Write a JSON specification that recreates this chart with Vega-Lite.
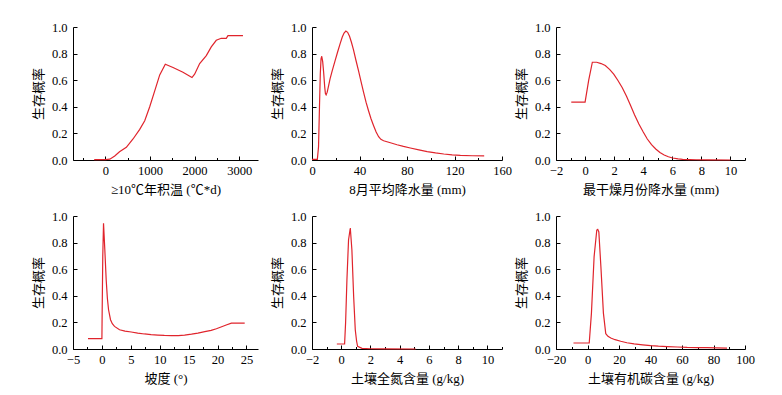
{
  "$schema": "https://vega.github.io/schema/vega-lite/v6.json",
  "background": "white",
  "padding": {"left": 32, "top": 21, "right": 5, "bottom": 5},
  "bounds": "flush",
  "columns": 3,
  "spacing": {"row": 56, "column": 54},
  "config": {
    "view": {"stroke": null},
    "axis": {
      "grid": false,
      "domainColor": "#000000",
      "domainWidth": 1,
      "tickColor": "#000000",
      "tickWidth": 1,
      "labelColor": "#000000",
      "labelFont": "Times New Roman, Liberation Serif, serif",
      "labelFontSize": 12.5,
      "labelFlush": false,
      "labelOverlap": false,
      "titleColor": "#000000",
      "titleFont": "Times New Roman, Liberation Serif, Noto Sans CJK SC, serif",
      "titleFontSize": 13,
      "titleFontWeight": "normal"
    },
    "axisX": {"labelPadding": 8, "titlePadding": 5},
    "axisY": {"labelPadding": 10, "titlePadding": 6,
      "values": [0, 0.1, 0.2, 0.3, 0.4, 0.5, 0.6, 0.7, 0.8, 0.9, 1.0],
      "format": ".1f",
      "labelExpr": "round(datum.value*10) % 2 === 0 ? datum.label : ''",
      "tickSize": {"condition": {"test": "round(datum.value*10) % 2 === 0", "value": -4}, "value": -2.5}
    }
  },
  "datasets": {
    "d1": [
      {"x": -250, "y": 0.003}, {"x": 0, "y": 0.003}, {"x": 100, "y": 0.006}, {"x": 210, "y": 0.03},
      {"x": 317, "y": 0.062}, {"x": 470, "y": 0.095}, {"x": 620, "y": 0.158}, {"x": 770, "y": 0.23},
      {"x": 882, "y": 0.295}, {"x": 994, "y": 0.4}, {"x": 1106, "y": 0.52}, {"x": 1218, "y": 0.64},
      {"x": 1343, "y": 0.72}, {"x": 1516, "y": 0.695}, {"x": 1739, "y": 0.66}, {"x": 1941, "y": 0.62},
      {"x": 2000, "y": 0.645}, {"x": 2113, "y": 0.725}, {"x": 2262, "y": 0.785}, {"x": 2373, "y": 0.85},
      {"x": 2485, "y": 0.9}, {"x": 2597, "y": 0.915}, {"x": 2709, "y": 0.915}, {"x": 2747, "y": 0.935},
      {"x": 3083, "y": 0.935}
    ],
    "d2": [
      {"x": 0, "y": 0.005}, {"x": 4.5, "y": 0.005}, {"x": 5.5, "y": 0.1}, {"x": 6.3, "y": 0.4},
      {"x": 7.0, "y": 0.65}, {"x": 7.6, "y": 0.76}, {"x": 8.2, "y": 0.78}, {"x": 9.0, "y": 0.74},
      {"x": 9.8, "y": 0.66}, {"x": 10.7, "y": 0.55}, {"x": 11.3, "y": 0.5}, {"x": 11.9, "y": 0.49},
      {"x": 12.8, "y": 0.51}, {"x": 14, "y": 0.56}, {"x": 15.2, "y": 0.61}, {"x": 17, "y": 0.67},
      {"x": 19.4, "y": 0.745}, {"x": 21.5, "y": 0.81}, {"x": 23.7, "y": 0.875}, {"x": 25.5, "y": 0.925},
      {"x": 27, "y": 0.955}, {"x": 28.5, "y": 0.97}, {"x": 30, "y": 0.96}, {"x": 31.6, "y": 0.93},
      {"x": 33.2, "y": 0.885}, {"x": 34.9, "y": 0.83}, {"x": 37, "y": 0.75}, {"x": 39.2, "y": 0.67},
      {"x": 41.3, "y": 0.59}, {"x": 43.4, "y": 0.51}, {"x": 45.5, "y": 0.435}, {"x": 47.6, "y": 0.37},
      {"x": 49.7, "y": 0.31}, {"x": 51.8, "y": 0.26}, {"x": 54, "y": 0.21}, {"x": 56.1, "y": 0.175},
      {"x": 58, "y": 0.155}, {"x": 60.3, "y": 0.145}, {"x": 66, "y": 0.13}, {"x": 71.6, "y": 0.115},
      {"x": 77, "y": 0.102}, {"x": 82.8, "y": 0.09}, {"x": 90, "y": 0.076}, {"x": 97, "y": 0.063},
      {"x": 104, "y": 0.053}, {"x": 111, "y": 0.045}, {"x": 118, "y": 0.039}, {"x": 125, "y": 0.035},
      {"x": 135, "y": 0.032}, {"x": 145, "y": 0.031}
    ],
    "d3": [
      {"x": -0.95, "y": 0.435}, {"x": 0, "y": 0.435}, {"x": 0.25, "y": 0.6}, {"x": 0.5, "y": 0.735},
      {"x": 0.8, "y": 0.735}, {"x": 1.1, "y": 0.725}, {"x": 1.39, "y": 0.71}, {"x": 1.7, "y": 0.68},
      {"x": 1.97, "y": 0.645}, {"x": 2.25, "y": 0.6}, {"x": 2.55, "y": 0.545}, {"x": 2.85, "y": 0.48},
      {"x": 3.13, "y": 0.41}, {"x": 3.4, "y": 0.34}, {"x": 3.7, "y": 0.27}, {"x": 4.0, "y": 0.21},
      {"x": 4.28, "y": 0.158}, {"x": 4.57, "y": 0.115}, {"x": 4.86, "y": 0.083}, {"x": 5.15, "y": 0.057},
      {"x": 5.44, "y": 0.038}, {"x": 5.73, "y": 0.024}, {"x": 6.02, "y": 0.015}, {"x": 6.4, "y": 0.008},
      {"x": 6.71, "y": 0.005}, {"x": 7.2, "y": 0.003}, {"x": 7.64, "y": 0.002}, {"x": 8.5, "y": 0.001},
      {"x": 10, "y": 0.0}
    ],
    "d4": [
      {"x": -2.4, "y": 0.078}, {"x": 0, "y": 0.078}, {"x": 0.05, "y": 0.3}, {"x": 0.15, "y": 0.7},
      {"x": 0.28, "y": 0.945}, {"x": 0.5, "y": 0.75}, {"x": 0.74, "y": 0.52}, {"x": 0.95, "y": 0.38},
      {"x": 1.15, "y": 0.295}, {"x": 1.49, "y": 0.22}, {"x": 1.8, "y": 0.19}, {"x": 2.18, "y": 0.17},
      {"x": 3.05, "y": 0.145}, {"x": 4, "y": 0.135}, {"x": 5.07, "y": 0.128}, {"x": 6.2, "y": 0.12},
      {"x": 7.37, "y": 0.113}, {"x": 8.5, "y": 0.108}, {"x": 9.68, "y": 0.105}, {"x": 10.8, "y": 0.102},
      {"x": 12, "y": 0.1}, {"x": 13.2, "y": 0.101}, {"x": 14.3, "y": 0.105}, {"x": 15.5, "y": 0.112},
      {"x": 16.6, "y": 0.12}, {"x": 17.8, "y": 0.13}, {"x": 18.9, "y": 0.14}, {"x": 19.8, "y": 0.152},
      {"x": 20.6, "y": 0.165}, {"x": 21.5, "y": 0.18}, {"x": 22.4, "y": 0.195}, {"x": 24.7, "y": 0.195}
    ],
    "d5": [
      {"x": -0.3, "y": 0.0375}, {"x": 0.23, "y": 0.0375}, {"x": 0.3, "y": 0.2}, {"x": 0.39, "y": 0.52},
      {"x": 0.5, "y": 0.82}, {"x": 0.62, "y": 0.91}, {"x": 0.73, "y": 0.745}, {"x": 0.85, "y": 0.395},
      {"x": 0.96, "y": 0.145}, {"x": 1.05, "y": 0.06}, {"x": 1.12, "y": 0.02}, {"x": 1.42, "y": 0.005},
      {"x": 2, "y": 0.002}, {"x": 3, "y": 0.001}, {"x": 5.09, "y": 0.0}
    ],
    "d6": [
      {"x": -8.9, "y": 0.045}, {"x": 1.1, "y": 0.045}, {"x": 2.5, "y": 0.27}, {"x": 4.2, "y": 0.695},
      {"x": 5.9, "y": 0.895}, {"x": 6.5, "y": 0.9}, {"x": 7.2, "y": 0.88}, {"x": 8.5, "y": 0.62},
      {"x": 10.1, "y": 0.27}, {"x": 11.6, "y": 0.115}, {"x": 13, "y": 0.095}, {"x": 14.8, "y": 0.083},
      {"x": 17.5, "y": 0.07}, {"x": 21.1, "y": 0.058}, {"x": 25, "y": 0.047}, {"x": 29.6, "y": 0.038},
      {"x": 35, "y": 0.031}, {"x": 40.1, "y": 0.025}, {"x": 45, "y": 0.021}, {"x": 50.6, "y": 0.018},
      {"x": 57, "y": 0.015}, {"x": 63.3, "y": 0.012}, {"x": 70, "y": 0.011}, {"x": 75.9, "y": 0.01},
      {"x": 82, "y": 0.008}, {"x": 88.6, "y": 0.007}
    ]
  },
  "concat": [
    {
      "width": 185, "height": 133,
      "data": {"name": "d1"},
      "mark": {"type": "line", "color": "#e0242c", "strokeWidth": 1.2},
      "encoding": {
        "x": {"field": "x", "type": "quantitative",
          "scale": {"domain": [-725, 3420], "nice": false, "zero": false},
          "axis": {"title": "≥10℃年积温 (℃*d)", "format": "d",
            "values": [-500, 0, 500, 1000, 1500, 2000, 2500, 3000],
            "labelExpr": "datum.value % 1000 === 0 ? datum.label : ''",
            "tickSize": {"condition": {"test": "datum.value % 1000 === 0", "value": -4}, "value": -2.5}}},
        "y": {"field": "y", "type": "quantitative",
          "scale": {"domain": [0, 1], "nice": false},
          "axis": {"title": "生存概率"}}
      }
    },
    {
      "width": 190, "height": 133,
      "data": {"name": "d2"},
      "mark": {"type": "line", "color": "#e0242c", "strokeWidth": 1.2},
      "encoding": {
        "x": {"field": "x", "type": "quantitative",
          "scale": {"domain": [0, 160], "nice": false, "zero": false},
          "axis": {"title": "8月平均降水量 (mm)", "format": "d",
            "values": [0, 20, 40, 60, 80, 100, 120, 140, 160],
            "labelExpr": "datum.value % 40 === 0 ? datum.label : ''",
            "tickSize": {"condition": {"test": "datum.value % 40 === 0", "value": -4}, "value": -2.5}}},
        "y": {"field": "y", "type": "quantitative",
          "scale": {"domain": [0, 1], "nice": false},
          "axis": {"title": "生存概率"}}
      }
    },
    {
      "width": 189, "height": 133,
      "data": {"name": "d3"},
      "mark": {"type": "line", "color": "#e0242c", "strokeWidth": 1.2},
      "encoding": {
        "x": {"field": "x", "type": "quantitative",
          "scale": {"domain": [-2, 11], "nice": false, "zero": false},
          "axis": {"title": "最干燥月份降水量 (mm)", "format": "d",
            "values": [-2, -1, 0, 1, 2, 3, 4, 5, 6, 7, 8, 9, 10, 11],
            "labelExpr": "datum.value % 2 === 0 ? datum.label : ''",
            "tickSize": {"condition": {"test": "datum.value % 2 === 0", "value": -4}, "value": -2.5}}},
        "y": {"field": "y", "type": "quantitative",
          "scale": {"domain": [0, 1], "nice": false},
          "axis": {"title": "生存概率"}}
      }
    },
    {
      "width": 185, "height": 133,
      "data": {"name": "d4"},
      "mark": {"type": "line", "color": "#e0242c", "strokeWidth": 1.2},
      "encoding": {
        "x": {"field": "x", "type": "quantitative",
          "scale": {"domain": [-5, 27], "nice": false, "zero": false},
          "axis": {"title": "坡度 (°)", "format": "d",
            "values": [-5, -2.5, 0, 2.5, 5, 7.5, 10, 12.5, 15, 17.5, 20, 22.5, 25],
            "labelExpr": "datum.value % 5 === 0 ? datum.label : ''",
            "tickSize": {"condition": {"test": "datum.value % 5 === 0", "value": -4}, "value": -2.5}}},
        "y": {"field": "y", "type": "quantitative",
          "scale": {"domain": [0, 1], "nice": false},
          "axis": {"title": "生存概率"}}
      }
    },
    {
      "width": 190, "height": 133,
      "data": {"name": "d5"},
      "mark": {"type": "line", "color": "#e0242c", "strokeWidth": 1.2},
      "encoding": {
        "x": {"field": "x", "type": "quantitative",
          "scale": {"domain": [-2, 11], "nice": false, "zero": false},
          "axis": {"title": "土壤全氮含量 (g/kg)", "format": "d",
            "values": [-2, -1, 0, 1, 2, 3, 4, 5, 6, 7, 8, 9, 10, 11],
            "labelExpr": "datum.value % 2 === 0 ? datum.label : ''",
            "tickSize": {"condition": {"test": "datum.value % 2 === 0", "value": -4}, "value": -2.5}}},
        "y": {"field": "y", "type": "quantitative",
          "scale": {"domain": [0, 1], "nice": false},
          "axis": {"title": "生存概率"}}
      }
    },
    {
      "width": 189, "height": 133,
      "data": {"name": "d6"},
      "mark": {"type": "line", "color": "#e0242c", "strokeWidth": 1.2},
      "encoding": {
        "x": {"field": "x", "type": "quantitative",
          "scale": {"domain": [-20, 100], "nice": false, "zero": false},
          "axis": {"title": "土壤有机碳含量 (g/kg)", "format": "d",
            "values": [-20, -10, 0, 10, 20, 30, 40, 50, 60, 70, 80, 90, 100],
            "labelExpr": "datum.value % 20 === 0 ? datum.label : ''",
            "tickSize": {"condition": {"test": "datum.value % 20 === 0", "value": -4}, "value": -2.5}}},
        "y": {"field": "y", "type": "quantitative",
          "scale": {"domain": [0, 1], "nice": false},
          "axis": {"title": "生存概率"}}
      }
    }
  ]
}
